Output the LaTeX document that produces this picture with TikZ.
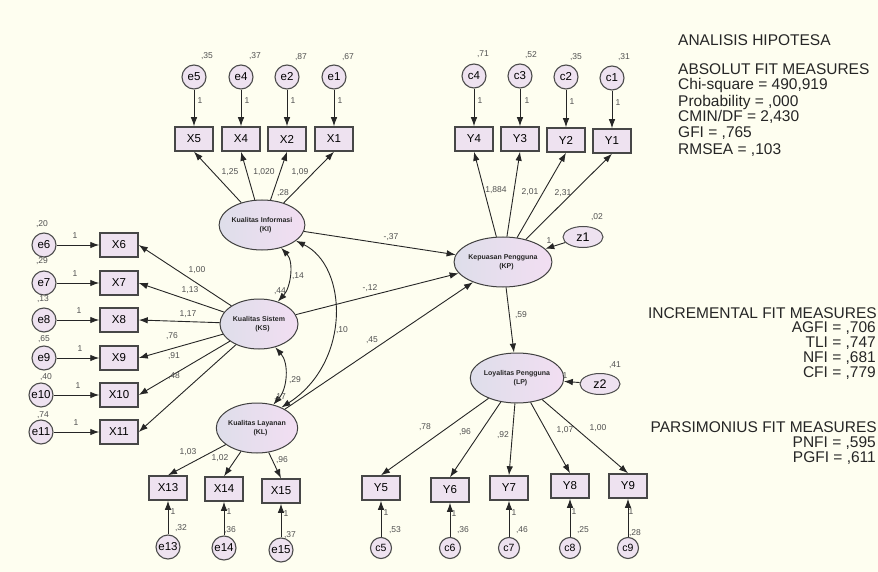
\documentclass[tikz,border=0pt]{standalone}
\usepackage{fontspec}
\setmainfont{Liberation Sans}
\usetikzlibrary{shapes.geometric,arrows.meta}
\definecolor{paper}{RGB}{254,254,240}
\definecolor{boxfill}{RGB}{238,226,240}
\definecolor{latl}{RGB}{222,222,234}
\definecolor{latr}{RGB}{242,222,242}
\definecolor{numgray}{RGB}{80,80,80}
\newcommand\lbl[3]{\node[lab] (#1) at (#2) {#3};}
\newcommand\stl[3]{\node[stat,anchor=west] (#1) at (#2) {#3};}
\newcommand\str[3]{\node[stat,anchor=east] (#1) at (#2) {#3};}
\begin{document}
\begin{tikzpicture}[x=1pt,y=-1pt,
  obs/.style={rectangle, draw=black!72, line width=1.5pt, fill=boxfill, minimum width=38pt, minimum height=24pt, inner sep=0pt, font=\fontsize{11.5}{11.5}\selectfont},
  err/.style={circle, draw=black!70, line width=1.1pt, fill=boxfill, minimum size=24pt, inner sep=0pt, font=\fontsize{11.5}{11.5}\selectfont},
  errs/.style={err, minimum size=21pt, font=\fontsize{10.5}{10.5}\selectfont},
  lat/.style={ellipse, draw=black!75, line width=1pt, left color=latl, right color=latr, minimum width=78pt, minimum height=50pt, inner sep=0pt, align=center, font=\fontsize{7}{9}\selectfont\bfseries, text=black!85},
  res/.style={ellipse, draw=black!70, line width=1pt, fill=boxfill, minimum width=40pt, minimum height=21pt, inner sep=0pt, font=\fontsize{12.5}{12.5}\selectfont},
  arr/.style={-{Latex[length=9pt,width=6.5pt]}, line width=0.9pt, draw=black!85},
  cov/.style={{Latex[length=9pt,width=6.5pt]}-{Latex[length=9pt,width=6.5pt]}, line width=0.9pt, draw=black!85},
  lab/.style={inner sep=0pt, font=\fontsize{8.5}{8.5}\selectfont, text=numgray},
  stat/.style={inner sep=0pt, font=\fontsize{15.5}{15.5}\selectfont, text=black!85},
]
% canvas
\fill[paper] (0,0) rectangle (878,572);
\useasboundingbox (0,0) rectangle (878,572);

% ---- latent variables
\node[lat] (KI) at (262,225) {Kualitas Informasi\\\quad(KI)};
\node[lat] (KS) at (259,324) {Kualitas Sistem\\\quad(KS)};
\node[lat] (KL) at (257,428) {Kualitas Layanan\\\quad(KL)};
\node[lat] (KP) at (503,262) {Kepuasan Pengguna\\\quad(KP)};
\node[lat] (LP) at (517,378) {Loyalitas Pengguna\\\quad(LP)};
\node[res] (z1) at (583,237) {z1};
\node[res] (z2) at (600,384) {z2};

% ---- indicators of KI
\foreach \n/\x/\e in {X5/194/e5, X4/241/e4, X2/287/e2, X1/334/e1}{
  \node[obs] (\n) at (\x,139) {\n};
  \node[err] (\e) at (\x,77) {\e};
  \draw[arr] (\e) -- (\n);
  \draw[arr] (KI) -- (\n.south);
}
% ---- indicators of KP
\foreach \n/\x/\y/\e in {Y4/474/139/c4, Y3/520/139/c3, Y2/566/140/c2, Y1/612/141/c1}{
  \node[obs] (\n) at (\x,\y) {\n};
  \node[err] (\e) at (\x,\y-63) {\e};
  \draw[arr] (\e) -- (\n);
  \draw[arr] (KP) -- (\n.south);
}
% ---- indicators of KS
\foreach \n/\y/\e/\ex in {X6/245/e6/44, X7/283/e7/44, X8/320/e8/44, X9/358/e9/44, X10/395/e10/41, X11/432/e11/41}{
  \node[obs] (\n) at (119,\y) {\n};
  \node[err] (\e) at (\ex,\y) {\e};
  \draw[arr] (\e) -- (\n);
  \draw[arr] (KS) -- (\n.east);
}
% ---- indicators of KL
\foreach \n/\x/\y/\e in {X13/168/488/e13, X14/224/489/e14, X15/281/491/e15}{
  \node[obs] (\n) at (\x,\y) {\n};
  \node[err] (\e) at (\x,\y+59) {\e};
  \draw[arr] (\e) -- (\n);
  \draw[arr] (KL) -- (\n.north);
}
% ---- indicators of LP
\foreach \n/\x/\y/\e in {Y5/381/488/c5, Y6/450/490/c6, Y7/509/488/c7, Y8/570/486/c8, Y9/628/486/c9}{
  \node[obs] (\n) at (\x,\y) {\n};
  \node[errs] (\e) at (\x,548) {\e};
  \draw[arr] (\e) -- (\n);
  \draw[arr] (LP) -- (\n.north);
}

% ---- structural paths
\draw[arr] (KI) -- (KP);
\draw[arr] (KS) -- (KP);
\draw[arr] (KL) -- (KP);
\draw[arr] (KP) -- (LP);
\draw[arr] (z1) -- (KP);
\draw[arr] (z2) -- (LP);

% ---- covariances
\draw[cov] (KI.-50) .. controls +(13,14) and +(13,-14) .. (KS.50);
\draw[cov] (KS.-55) .. controls +(14,16) and +(14,-16) .. (KL.55);
\draw[cov] (KI.-25) .. controls +(52,25) and +(70,-45) .. (KL.40);

% ---- estimates
\lbl{v5}{207,56}{,35} \lbl{v4}{255,56}{,37} \lbl{v2}{301,57}{,87} \lbl{v1}{348,57}{,67}
\lbl{o5}{200,101}{1} \lbl{o4}{247,101}{1} \lbl{o2}{293,101}{1} \lbl{o1}{340,101}{1}
\lbl{w4}{483,54}{,71} \lbl{w3}{531,55}{,52} \lbl{w2}{576,57}{,35} \lbl{w1}{624,57}{,31}
\lbl{p4}{480,101}{1} \lbl{p3}{527,101}{1} \lbl{p2}{572,102}{1} \lbl{p1}{618,103}{1}
\lbl{lx5}{230,172}{1,25} \lbl{lx4}{264,172}{1,020} \lbl{lx1}{300,172}{1,09} \lbl{vKI}{283,193}{,28}
\lbl{ly4}{496,190}{1,884} \lbl{ly2}{530,192}{2,01} \lbl{ly1}{563,193}{2,31}
\lbl{vz1}{597,217}{,02} \lbl{oz1}{549,241}{1}
\lbl{b1}{391,237}{-,37} \lbl{b2}{370,288}{-,12} \lbl{b3}{372,340}{,45} \lbl{b4}{521,315}{,59}
\lbl{c14}{298,276}{,14} \lbl{vKS}{280,291}{,44} \lbl{c10}{342,330}{,10} \lbl{c29}{295,380}{,29} \lbl{vKL}{280,397}{,17}
\lbl{v6}{42,224}{,20} \lbl{v7}{42,261}{,29} \lbl{v8}{43,299}{,13} \lbl{v9}{44,339}{,65} \lbl{v10}{46,377}{,40} \lbl{v11}{43,415}{,74}
\lbl{o6}{75,236}{1} \lbl{o7}{75,274}{1} \lbl{o8}{79,311}{1} \lbl{o9}{80,349}{1} \lbl{o10}{78,386}{1} \lbl{o11}{76,423}{1}
\lbl{lx6}{197,270}{1,00} \lbl{lx7}{190,290}{1,13} \lbl{lx8}{188,314}{1,17} \lbl{lx9}{172,336}{,76} \lbl{lx10}{174,356}{,91} \lbl{lx11}{174,376}{,48}
\lbl{lx13}{188,452}{1,03} \lbl{lx14}{220,458}{1,02} \lbl{lx15}{282,460}{,96}
\lbl{v13}{181,528}{,32} \lbl{v14}{230,530}{,36} \lbl{v15}{290,535}{,37}
\lbl{o13}{173,512}{1} \lbl{o14}{229,512}{1} \lbl{o15}{286,514}{1}
\lbl{ly5}{425,427}{,78} \lbl{ly6}{465,432}{,96} \lbl{ly7}{503,435}{,92} \lbl{ly8}{565,430}{1,07} \lbl{ly9}{598,428}{1,00}
\lbl{oz2}{565,376}{1} \lbl{vz2}{615,365}{,41}
\lbl{p5}{386,513}{1} \lbl{p6}{454,514}{1} \lbl{p7}{514,513}{1} \lbl{p8}{574,512}{1} \lbl{p9}{631,512}{1}
\lbl{w5}{395,530}{,53} \lbl{w6}{463,530}{,36} \lbl{w7}{522,530}{,46} \lbl{w8}{583,530}{,25} \lbl{w9}{635,533}{,28}

% ---- fit measures
\stl{t0}{678,40}{ANALISIS HIPOTESA}
\stl{t1}{678,69}{ABSOLUT FIT MEASURES}
\stl{t2}{678,85}{Chi-square = 490,919}
\stl{t3}{678,102}{Probability = ,000}
\stl{t4}{678,117}{CMIN/DF = 2,430}
\stl{t5}{678,133}{GFI = ,765}
\stl{t6}{678,150}{RMSEA = ,103}
\str{s0}{877,313}{INCREMENTAL FIT MEASURES}
\str{s1}{876,328}{AGFI = ,706}
\str{s2}{876,343}{TLI = ,747}
\str{s3}{876,358}{NFI = ,681}
\str{s4}{876,373}{CFI = ,779}
\str{s5}{877,427}{PARSIMONIUS FIT MEASURES}
\str{s6}{876,443}{PNFI = ,595}
\str{s7}{876,458}{PGFI = ,611}
\end{tikzpicture}
\end{document}
